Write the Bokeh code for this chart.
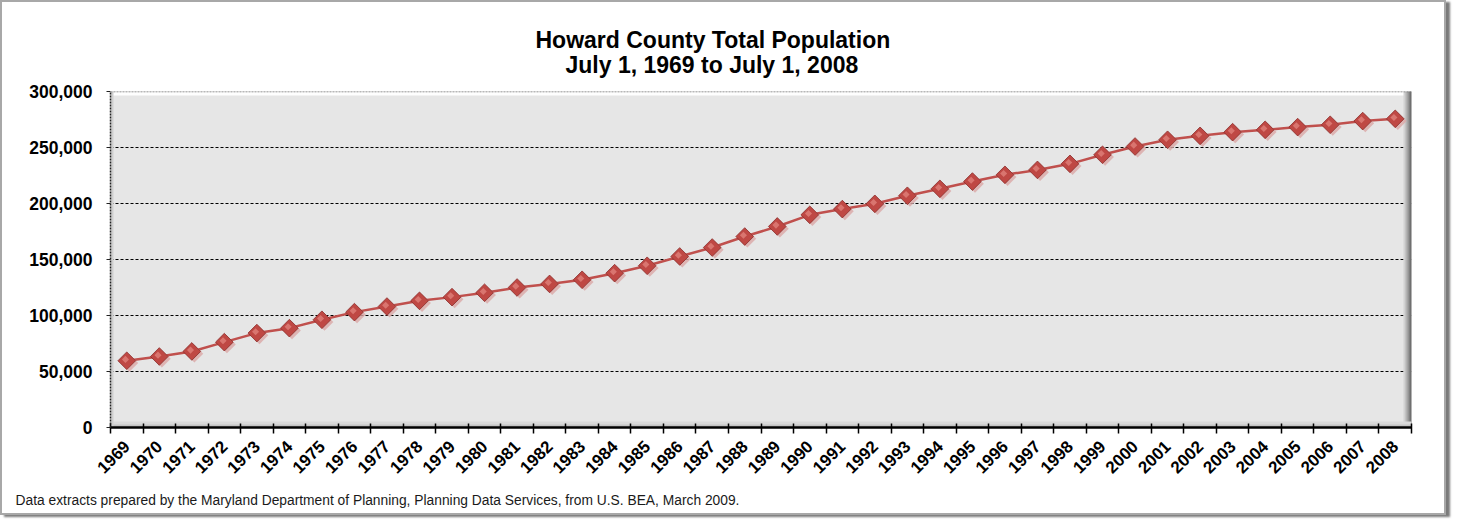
from bokeh.plotting import figure
from bokeh.models import (Range1d, FixedTicker, NumeralTickFormatter, Title,
                          BoxAnnotation, Span, ColumnDataSource)
from bokeh.transform import dodge
from bokeh.embed import file_html
from bokeh.resources import INLINE
from math import pi

# ---- data ----
years = list(range(1969, 2009))
population = [59600, 63400, 67900, 76200, 84300, 88700, 96200, 103000, 108000, 113100,
              116400, 120300, 125000, 128200, 131900, 137800, 144400, 152700, 160700, 170500,
              179500, 189900, 195000, 199700, 206900, 213100, 219600, 225600, 230000, 235400,
              243500, 250900, 256900, 260400, 263700, 265800, 268200, 270300, 273600, 275600]
y_ticks = [0, 50000, 100000, 150000, 200000, 250000, 300000]
grid_ticks = [50000, 100000, 150000, 200000, 250000]
title_lines = ["Howard County Total Population", "July 1, 1969 to July 1, 2008"]
footnote = ("Data extracts prepared by the Maryland Department of Planning, Planning Data Services, "
            "from U.S.  BEA,  March 2009.")

FONT = "Liberation Sans"
RED = "#c0504d"

src = ColumnDataSource(dict(x=years, y=population))

x_lo, x_hi = years[0] - 0.5, years[-1] + 0.5
y_lo, y_hi = y_ticks[0], y_ticks[-1]

p = figure(width=1446, height=515, output_backend="svg", toolbar_location=None,
           x_range=Range1d(x_lo, x_hi), y_range=Range1d(y_lo, y_hi),
           min_border_left=108, min_border_right=37, min_border_top=89, min_border_bottom=90,
           background_fill_color="#e6e6e6", border_fill_color="white",
           outline_line_color=None,
           styles={"border": "2px solid #a8a8a8", "box-shadow": "4px 2px 2px #7a7a7a"})

# title: two centered lines (inner line added first)
p.add_layout(Title(text=title_lines[1], align="left", offset=455, text_font=FONT,
                   text_font_size="23px", text_font_style="bold", text_color="black",
                   standoff=27), "above")
p.add_layout(Title(text=title_lines[0], align="left", offset=425, text_font=FONT,
                   text_font_size="23px", text_font_style="bold", text_color="black",
                   standoff=-32), "above")

# axes
p.xaxis.ticker = FixedTicker(ticks=years, minor_ticks=[y - 0.5 for y in years] + [years[-1] + 0.5])
p.xaxis.major_label_overrides = {y: str(y) for y in years}
p.xaxis.major_label_orientation = pi / 4
p.xaxis.major_label_text_font = FONT
p.xaxis.major_label_text_font_size = "17px"
p.xaxis.major_label_text_font_style = "bold"
p.xaxis.major_label_text_color = "black"
p.xaxis.major_label_standoff = 10
p.xaxis.major_tick_line_color = None
p.xaxis.major_tick_out = 0
p.xaxis.major_tick_in = 0
p.xaxis.minor_tick_line_color = "black"
p.xaxis.minor_tick_line_width = 1.5
p.xaxis.minor_tick_in = 4
p.xaxis.minor_tick_out = 6
p.xaxis.axis_line_color = "black"
p.xaxis.axis_line_width = 2.5

p.yaxis.ticker = FixedTicker(ticks=y_ticks, minor_ticks=[])
p.yaxis.formatter = NumeralTickFormatter(format="0,0")
p.yaxis.major_label_text_font = FONT
p.yaxis.major_label_text_font_size = "17.5px"
p.yaxis.major_label_text_font_style = "bold"
p.yaxis.major_label_text_color = "black"
p.yaxis.major_label_standoff = 14
p.yaxis.major_tick_out = 4
p.yaxis.major_tick_in = 0
p.yaxis.major_tick_line_color = "#222222"
p.yaxis.axis_line_color = "#222222"
p.yaxis.axis_line_dash = "2 1"
p.yaxis.axis_line_width = 1.5

# grids
p.xgrid.grid_line_color = None
p.ygrid.ticker = FixedTicker(ticks=grid_ticks)
p.ygrid.grid_line_color = "black"
p.ygrid.grid_line_dash = "3 2"
p.ygrid.grid_line_width = 1

# bevel effects of the plot area
px_x = (x_hi - x_lo) / 1301.0
px_y = (y_hi - y_lo) / 336.0
p.add_layout(BoxAnnotation(bottom=y_hi - 4 * px_y, fill_color="white", fill_alpha=0.95,
                           line_color=None, level="underlay"))
for w, c in [(8, "#d2d2d2"), (6, "#b4b4b4"), (4, "#959595"), (2, "#6f6f6f")]:
    p.add_layout(BoxAnnotation(left=x_hi - w * px_x, fill_color=c, fill_alpha=1,
                               line_color=None, level="underlay"))
for h, c in [(6, "#dadada"), (3, "#c4c4c4")]:
    p.add_layout(BoxAnnotation(top=y_lo + h * px_y, fill_color=c, fill_alpha=1,
                               line_color=None, level="underlay"))
p.add_layout(BoxAnnotation(right=x_lo + 3 * px_x, fill_color="#cfcfcf", fill_alpha=1,
                           line_color=None, level="underlay"))
p.add_layout(Span(location=y_hi, dimension="width", line_color="#7a7a7a",
                  line_dash="2 1", line_width=1.5))

# series
p.line("x", "y", source=src, line_color=RED, line_width=2.5)
p.scatter(x=dodge("x", 0.08, range=p.x_range), y=dodge("y", -2000), source=src,
          marker="square", angle=pi / 4, size=12.5, fill_color="#dba8a6", fill_alpha=0.8,
          line_color=None)
p.scatter("x", "y", source=src, marker="square", angle=pi / 4, size=12.5,
          fill_color="#bf4844", line_color=None)
p.scatter("x", "y", source=src, marker="square", angle=pi / 4, size=12.5,
          fill_color=None, line_color="#8a2c29", line_width=0.8)
p.scatter(x=dodge("x", -0.04, range=p.x_range), y=dodge("y", 1200), source=src,
          marker="square", angle=pi / 4, size=5, fill_color="#dc7a74", line_color=None,
          fill_alpha=0.9)

# footnote
p.add_layout(Title(text=footnote, align="left", offset=-95, text_font=FONT,
                   text_font_size="13.8px", text_font_style="normal", text_color="#1a1a1a",
                   standoff=18), "below")

open("out.html", "w").write(file_html(p, INLINE))
